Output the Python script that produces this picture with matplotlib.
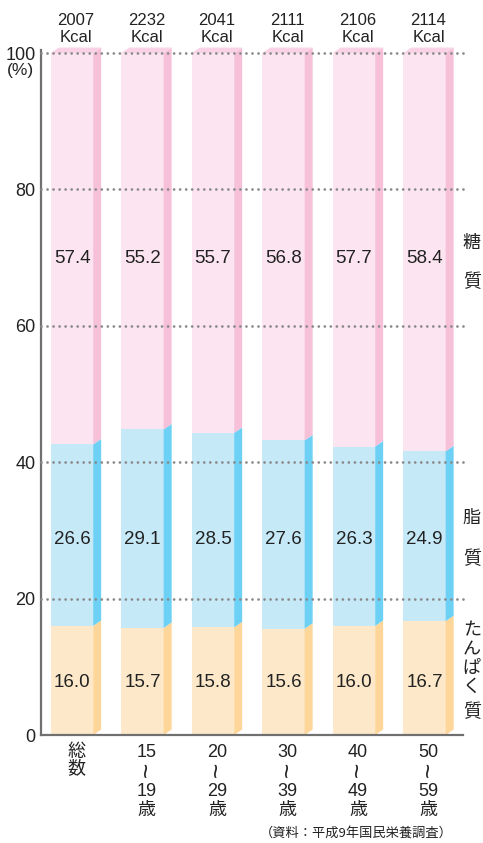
import matplotlib
matplotlib.use("Agg")
import matplotlib.pyplot as plt
from matplotlib.patches import Polygon, Rectangle

plt.rcParams['font.family'] = ['Liberation Sans', 'Noto Sans CJK JP', 'DejaVu Sans']

kcal = [2007, 2232, 2041, 2111, 2106, 2114]
protein = [16.0, 15.7, 15.8, 15.6, 16.0, 16.7]
fat = [26.6, 29.1, 28.5, 27.6, 26.3, 24.9]
carbs = [57.4, 55.2, 55.7, 56.8, 57.7, 58.4]
cat_top = ["総", "15", "20", "30", "40", "50"]
cat_bottom = ["数", "19", "29", "39", "49", "59"]
yticks = [0, 20, 40, 60, 80, 100]

front = ['#fde9ca', '#c6e9f8', '#fce5f0']
side = ['#fed69a', '#6dd0f5', '#f7c0d9']
top_col = '#f9d3e5'

W, H = 483, 843
fig = plt.figure(figsize=(W / 100, H / 100), dpi=100)
ax = fig.add_axes([41 / W, (H - 735) / H, 422 / W, 682 / H])
ax.set_xlim(-0.44, 5.546)
ax.set_ylim(0, 100)

bw = 0.6
dx = 8 / 70.5
dy = 0.8
txt = '#222222'

for i in range(len(kcal)):
    x0 = i - bw / 2
    bottoms = [0, protein[i], protein[i] + fat[i]]
    vals = [protein[i], fat[i], carbs[i]]
    for k in range(3):
        y0 = bottoms[k]
        y1 = y0 + vals[k]
        if k == 2:
            y1 = 100
        ax.add_patch(Rectangle((x0, y0), bw, y1 - y0, facecolor=front[k],
                               edgecolor='none', zorder=2))
        ax.add_patch(Polygon([(x0 + bw, y0), (x0 + bw + dx, y0 + dy),
                              (x0 + bw + dx, y1 + dy), (x0 + bw, y1)],
                             closed=True, facecolor=side[k], edgecolor='none',
                             zorder=2, clip_on=False))
    ax.add_patch(Polygon([(x0, 100), (x0 + dx, 100 + dy), (x0 + bw + dx, 100 + dy),
                          (x0 + bw, 100)], closed=True, facecolor=top_col,
                         edgecolor='none', zorder=2, clip_on=False))
    # values
    ax.text(i, 69.8, f"{carbs[i]:.1f}", ha='center', va='center', fontsize=13.5,
            color=txt, zorder=4)
    ax.text(i, 28.6, f"{fat[i]:.1f}", ha='center', va='center', fontsize=13.5,
            color=txt, zorder=4)
    ax.text(i, 7.7, f"{protein[i]:.1f}", ha='center', va='center', fontsize=13.5,
            color=txt, zorder=4)
    cx = i + dx / 2
    # kcal labels
    ax.text(cx, 104.8, f"{kcal[i]}", ha='center', va='center', fontsize=12,
            color=txt, clip_on=False)
    ax.text(cx, 102.3, "Kcal", ha='center', va='center', fontsize=12,
            color=txt, clip_on=False)
    # category labels
    if i == 0:
        ax.text(cx, -2.5, cat_top[i], ha='center', va='center', fontsize=13,
                color=txt, clip_on=False)
        ax.text(cx, -4.9, cat_bottom[i], ha='center', va='center', fontsize=13,
                color=txt, clip_on=False)
    else:
        ax.text(cx, -2.5, cat_top[i], ha='center', va='center', fontsize=13,
                color=txt, clip_on=False)
        ax.text(cx, -5.1, "~", ha='center', va='center', fontsize=19,
                color=txt, rotation=90, clip_on=False)
        ax.text(cx, -8.3, cat_bottom[i], ha='center', va='center', fontsize=13,
                color=txt, clip_on=False)
        ax.text(cx, -11.0, "歳", ha='center', va='center', fontsize=13,
                color=txt, clip_on=False)

# dotted gridlines
for yv in yticks[1:]:
    ax.plot([-0.44, 5.546], [yv, yv], color='#8a8a8a', linewidth=2.0,
            dashes=(0.01, 2.16), dash_capstyle='round', zorder=3,
            clip_on=False)

# right side labels
rx = 5.67
for ch, yv in [("糖", 72.0), ("質", 66.4)]:
    ax.text(rx, yv, ch, ha='center', va='center', fontsize=13, color=txt,
            clip_on=False)
for ch, yv in [("脂", 31.7), ("質", 25.8)]:
    ax.text(rx, yv, ch, ha='center', va='center', fontsize=13, color=txt,
            clip_on=False)
for ch, yv in [("た", 15.2), ("ん", 12.4), ("ぱ", 9.8), ("く", 7.0), ("質", 3.3)]:
    ax.text(rx, yv, ch, ha='center', va='center', fontsize=13, color=txt,
            clip_on=False)

ax.set_yticks(yticks)
ax.set_yticklabels([str(v) for v in yticks], fontsize=13, color=txt)
ax.tick_params(axis='y', length=0, pad=4)
ax.set_xticks([])
for s in ['top', 'right']:
    ax.spines[s].set_visible(False)
for s in ['left', 'bottom']:
    ax.spines[s].set_color('#707070')
    ax.spines[s].set_linewidth(1.6)
ax.spines['left'].set_bounds(0, 100.4)

fig.text(20 / W, 1 - 71 / H, "(%)", ha='center', va='center', fontsize=12.5,
         color=txt)

fig.text(453 / W, 1 - 833 / H, "（資料：平成9年国民栄養調査）", ha='right',
         va='center', fontsize=9.5, color=txt,
         family=['Noto Sans CJK JP'])

fig.savefig("out.png", dpi=100)
